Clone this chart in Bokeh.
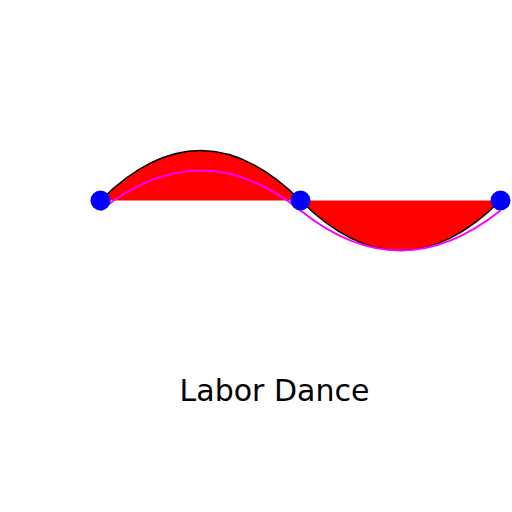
import numpy as np
from bokeh.plotting import figure
from bokeh.models import Range1d
from bokeh.core.properties import value
from bokeh.embed import file_html
from bokeh.resources import INLINE

# Black curve: quadratic bezier segments (start, control, end)
black_x0 = [100, 300]
black_y0 = [200, 200]
black_cx = [200, 400]
black_cy = [100, 300]
black_x1 = [300, 500]
black_y1 = [200, 200]

# Magenta curve: quadratic bezier segments
mag_x0 = [100, 300]
mag_y0 = [210, 210]
mag_cx = [200, 400]
mag_cy = [130, 290]
mag_x1 = [300, 500]
mag_y1 = [210, 210]

# Blue points
point_x = [100, 300, 500]
point_y = [200, 200, 200]

title_text = "Labor Dance"
title_x = [274]
title_y = [390]

p = figure(width=512, height=512, output_backend="svg", toolbar_location=None,
           x_range=Range1d(0, 512), y_range=Range1d(512, 0), min_border=0)
p.axis.visible = False
p.xgrid.visible = False
p.ygrid.visible = False
p.outline_line_color = None
p.background_fill_color = "white"
p.border_fill_color = "white"

# Red fill: the closed path of the black curve
t = np.linspace(0, 1, 80)
fx, fy = [], []
for x0, y0, cx, cy, x1, y1 in zip(black_x0, black_y0, black_cx, black_cy, black_x1, black_y1):
    fx.extend((1 - t) ** 2 * x0 + 2 * (1 - t) * t * cx + t ** 2 * x1)
    fy.extend((1 - t) ** 2 * y0 + 2 * (1 - t) * t * cy + t ** 2 * y1)
p.patch(fx, fy, fill_color="#FF0000", line_color=None)

p.quadratic(x0=black_x0, y0=black_y0, cx=black_cx, cy=black_cy, x1=black_x1, y1=black_y1,
            line_color="black", line_width=1.5)
p.quadratic(x0=mag_x0, y0=mag_y0, cx=mag_cx, cy=mag_cy, x1=mag_x1, y1=mag_y1,
            line_color="#FF00FF", line_width=2)

p.circle(x=point_x, y=point_y, radius=10, fill_color="#0000FF", line_color=None)

p.text(x=title_x, y=title_y, text=[title_text], text_align="center",
       text_baseline="alphabetic", text_font=value("DejaVu Sans"),
       text_font_size="30px", text_color="black")

open("out.html", "w").write(file_html(p, INLINE))
